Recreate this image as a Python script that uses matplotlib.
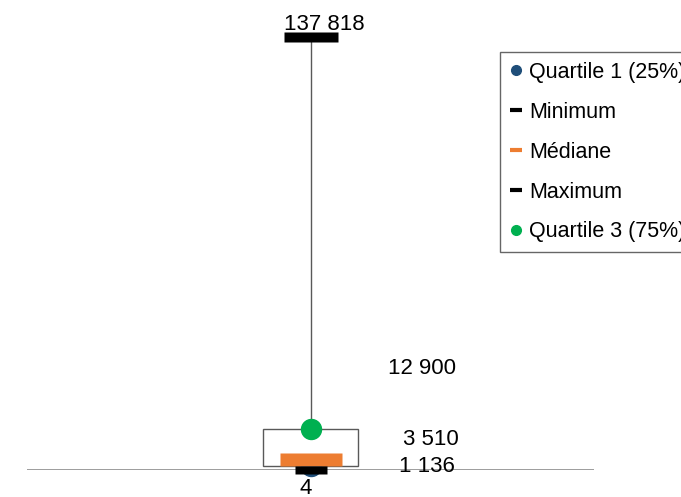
import matplotlib
matplotlib.use("Agg")
import matplotlib.pyplot as plt
from matplotlib.path import Path
from matplotlib.lines import Line2D

# data
labels = ["Quartile 1 (25%)", "Minimum", "Médiane", "Maximum", "Quartile 3 (75%)"]
q1 = 1136
minimum = 4
median = 3510
maximum = 137818
q3 = 12900
value_labels = ["1 136", "4", "3 510", "137 818", "12 900"]

c_q1 = "#1F4E79"
c_min = "#000000"
c_med = "#ED7D31"
c_max = "#000000"
c_q3 = "#00B050"

W, H = 681, 497
fig = plt.figure(figsize=(W / 100, H / 100), dpi=100)
plt.rcParams["font.family"] = ["Liberation Sans", "DejaVu Sans"]

left, right = 27, 594
bottom_px = 470
ymax = 145000
px_per_unit = (470 - 37) / maximum
top_px = bottom_px - ymax * px_per_unit
ax = fig.add_axes([left / W, (H - bottom_px) / H, (right - left) / W, (bottom_px - top_px) / H])
ax.set_xlim(-0.5, 0.5)
ax.set_ylim(0, ymax)
for s in ax.spines.values():
    s.set_visible(False)
ax.set_xticks([])
ax.set_yticks([])
ax.axhline(0, color="#8C8C8C", lw=1.2, zorder=1, snap=True)

# box from Q1 to Q3
ax.bar(0, q3 - q1, bottom=q1, width=95 / (right - left), fill=False,
       edgecolor="#595959", lw=1, zorder=2)
# whisker
ax.vlines(0, q3, maximum, color="#595959", lw=1, zorder=2)


def rect_marker(w, h):
    hw, hh = w / 2, h / 2
    return Path([(-hw, -hh), (hw, -hh), (hw, hh), (-hw, hh), (-hw, -hh)],
                [Path.MOVETO, Path.LINETO, Path.LINETO, Path.LINETO, Path.CLOSEPOLY])


pt = 0.72  # points per pixel at 100 dpi
ax.plot([0], [q1], marker="o", ms=20 * pt, color=c_q1, mec=c_q1, ls="none", zorder=3, clip_on=False)
ax.plot([0], [median], marker=rect_marker(62, 13), ms=62 * pt, color=c_med, mec="none", ls="none", zorder=4, clip_on=False)
ax.plot([0], [minimum], marker=rect_marker(32, 8), ms=32 * pt, color=c_min, mec="none", ls="none", zorder=5, clip_on=False)
ax.plot([0], [maximum], marker=rect_marker(54, 10), ms=54 * pt, color=c_max, mec="none", ls="none", zorder=4, clip_on=False)
ax.plot([0], [q3], marker="o", ms=20 * pt, color=c_q3, mec=c_q3, ls="none", zorder=5, clip_on=False)

fs = 16
vals = [q1, minimum, median, maximum, q3]
offsets = [(116, 0), (-5, -19), (120, 19), (14, 12), (112, 61)]
for v, t, off in zip(vals, value_labels, offsets):
    ax.annotate(t, xy=(0, v), xytext=off, textcoords="offset pixels",
                ha="center", va="center", fontsize=fs, color="#000000",
                zorder=6, annotation_clip=False)

handles = [
    Line2D([], [], marker="o", color=c_q1, ls="none", ms=7),
    Line2D([], [], marker="_", color=c_min, ls="none", ms=9, mew=3),
    Line2D([], [], marker="_", color=c_med, ls="none", ms=9, mew=3),
    Line2D([], [], marker="_", color=c_max, ls="none", ms=9, mew=3),
    Line2D([], [], marker="o", color=c_q3, ls="none", ms=7),
]
leg = fig.legend(handles, labels, loc="upper left",
                 bbox_to_anchor=(500 / W, 1 - 52 / H), bbox_transform=fig.transFigure,
                 fontsize=15.5, frameon=True, fancybox=False, edgecolor="#404040",
                 handlelength=0.6, handletextpad=0.3, labelspacing=0.88,
                 borderpad=0.45, borderaxespad=0)
leg.get_frame().set_linewidth(1)

fig.savefig("out.png", dpi=100)
